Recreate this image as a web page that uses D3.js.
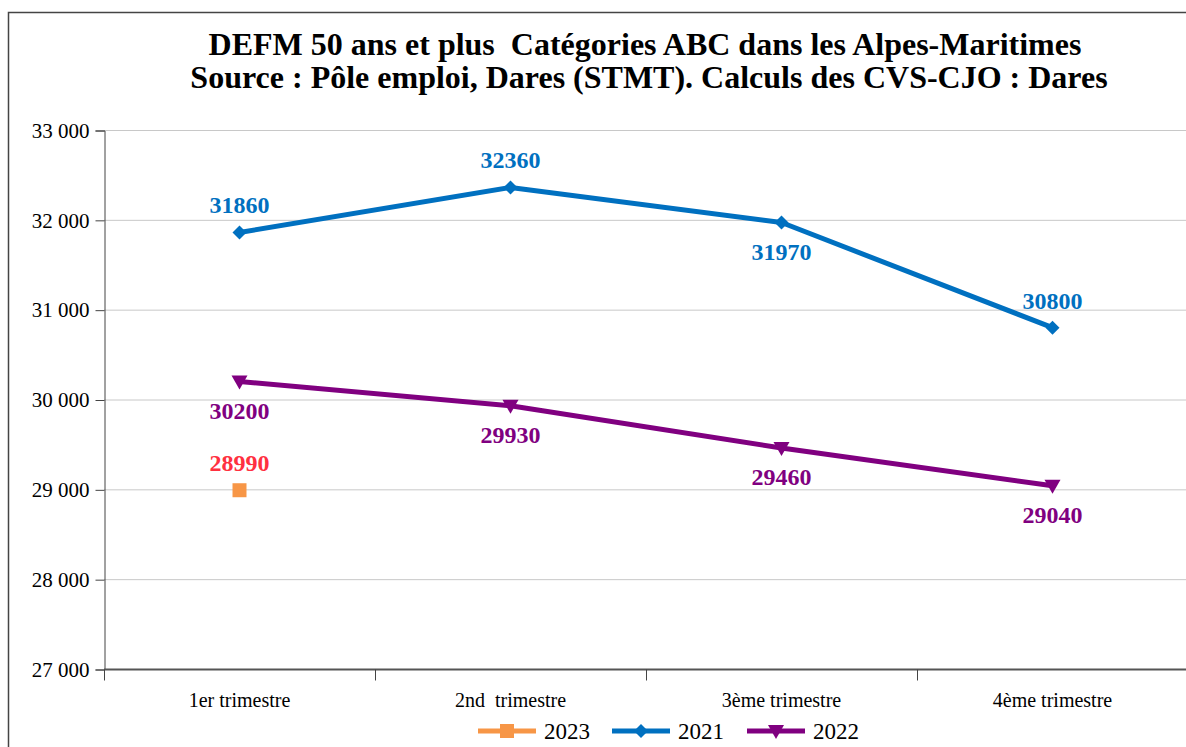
<!DOCTYPE html>
<html>
<head>
<meta charset="utf-8">
<script src="https://cdn.jsdelivr.net/npm/d3@7"></script>
<style>
  body { margin: 0; background: #fff; }
  text { font-family: "Liberation Serif", "Times New Roman", serif; }
</style>
</head>
<body>
<svg id="chart" width="1186" height="747"></svg>
<script>
// data
var categories = ["1er trimestre", "2nd  trimestre", "3ème trimestre", "4ème trimestre"];
var values2021 = [31860, 32360, 31970, 30800];
var values2022 = [30200, 29930, 29460, 29040];
var values2023 = [28990];
var yTicks = [27000, 28000, 29000, 30000, 31000, 32000, 33000];
var titleLines = ["DEFM 50 ans et plus  Catégories ABC dans les Alpes-Maritimes",
                  "Source : Pôle emploi, Dares (STMT). Calculs des CVS-CJO : Dares"];

var series = [
  {name: "2023", values: values2023, color: "#F79646", label: "#FF3040", marker: "square", pos: ["above"]},
  {name: "2021", values: values2021, color: "#0070C0", label: "#0070C0", marker: "diamond", pos: ["above", "above", "below", "above"]},
  {name: "2022", values: values2022, color: "#800080", label: "#800080", marker: "triangleDown", pos: ["below", "below", "below", "below"]}
];

var svg = d3.select("#chart");

// outer frame
svg.append("rect")
    .attr("x", 8.5).attr("y", 12.5)
    .attr("width", 1200).attr("height", 760)
    .attr("fill", "none").attr("stroke", "#444").attr("stroke-width", 1.5);

var x = d3.scaleBand().domain(categories).range([104, 1188]);
var y = d3.scaleLinear().domain([27000, 33000]).range([669, 130]);

// title
svg.append("g").selectAll("text")
    .data(titleLines)
    .enter().append("text")
    .attr("x", function(d, i) { return i == 0 ? 645 : 649; })
    .attr("y", function(d, i) { return 55 + i * 33; })
    .attr("text-anchor", "middle")
    .style("font-size", "32px")
    .style("font-weight", "bold")
    .style("white-space", "pre")
    .text(function(d) { return d; });

// gridlines
svg.append("g").selectAll("line")
    .data(yTicks.slice(1))
    .enter().append("line")
    .attr("x1", 104).attr("x2", 1186)
    .attr("y1", function(d) { return y(d) + 0.5; })
    .attr("y2", function(d) { return y(d) + 0.5; })
    .attr("stroke", "#c8c8c8").attr("stroke-width", 1);

// y axis
var yAxis = svg.append("g")
    .attr("transform", "translate(104.5,0.5)")
    .call(d3.axisLeft(y).tickValues(yTicks).tickSize(9).tickPadding(6)
      .tickFormat(function(d) { return d3.format(",")(d).replace(",", " "); }));
yAxis.select(".domain").attr("stroke", "#444");
yAxis.selectAll(".tick line").attr("stroke", "#444");
yAxis.selectAll("text")
    .style("font-size", "21px").attr("fill", "#000");

// x axis
var xAxis = svg.append("g")
    .attr("transform", "translate(0," + (y(27000) + 0.5) + ")");
xAxis.append("line")
    .attr("x1", 104).attr("x2", 1186)
    .attr("stroke", "#555").attr("stroke-width", 2);
xAxis.selectAll(".xtick")
    .data(categories)
    .enter().append("line")
    .attr("class", "xtick")
    .attr("x1", function(d) { return x(d) + 0.5; })
    .attr("x2", function(d) { return x(d) + 0.5; })
    .attr("y1", 0).attr("y2", 11)
    .attr("stroke", "#444");
xAxis.selectAll(".xlabel")
    .data(categories)
    .enter().append("text")
    .attr("class", "xlabel")
    .attr("x", function(d) { return x(d) + x.bandwidth() / 2; })
    .attr("y", 37)
    .attr("text-anchor", "middle")
    .style("font-size", "20px")
    .style("white-space", "pre")
    .text(function(d) { return d; });

function markerPath(type) {
  if (type == "square") return "M-7,-7H7V7H-7Z";
  if (type == "diamond") return "M0,-7L7,0L0,7L-7,0Z";
  return "M-8,-6H8L0,8Z";
}

var line = d3.line()
    .x(function(d, i) { return x(categories[i]) + x.bandwidth() / 2; })
    .y(function(d) { return y(d); });

series.forEach(function(s) {
  var g = svg.append("g");
  if (s.values.length > 1) {
    g.append("path")
        .datum(s.values)
        .attr("d", line)
        .attr("fill", "none")
        .attr("stroke", s.color)
        .attr("stroke-width", 5)
        .attr("stroke-linejoin", "round");
  }
  g.selectAll(".m")
      .data(s.values)
      .enter().append("path")
      .attr("class", "m")
      .attr("transform", function(d, i) {
        return "translate(" + (x(categories[i]) + x.bandwidth() / 2) + "," + y(d) + ")";
      })
      .attr("d", markerPath(s.marker))
      .attr("fill", s.color);
  g.selectAll(".lbl")
      .data(s.values)
      .enter().append("text")
      .attr("class", "lbl")
      .attr("x", function(d, i) { return x(categories[i]) + x.bandwidth() / 2; })
      .attr("y", function(d, i) { return y(d) + (s.pos[i] == "above" ? -19 : 37); })
      .attr("text-anchor", "middle")
      .style("font-size", "24px")
      .style("font-weight", "bold")
      .attr("fill", s.label)
      .text(function(d) { return d; });
});

// legend
var legend = svg.append("g").attr("transform", "translate(0,731)");
var legX = [478, 612, 747];
series.forEach(function(s, i) {
  var lg = legend.append("g").attr("transform", "translate(" + legX[i] + ",0)");
  lg.append("line")
      .attr("x1", 0).attr("x2", 58)
      .attr("stroke", s.color).attr("stroke-width", 5);
  lg.append("path")
      .attr("transform", "translate(29,0)")
      .attr("d", markerPath(s.marker))
      .attr("fill", s.color);
  lg.append("text")
      .attr("x", 66).attr("y", 8)
      .style("font-size", "23px")
      .text(s.name);
});
</script>
</body>
</html>
